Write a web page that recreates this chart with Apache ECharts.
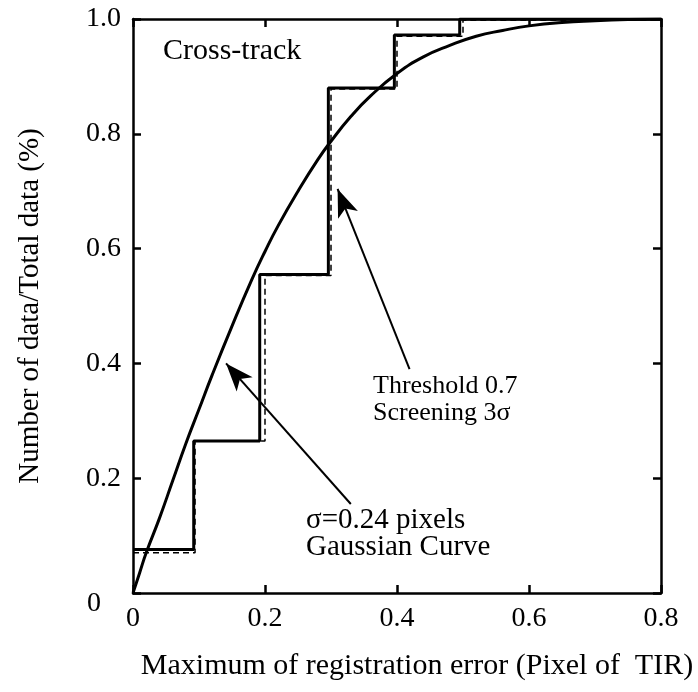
<!DOCTYPE html>
<html>
<head>
<meta charset="utf-8">
<script src="https://cdn.jsdelivr.net/npm/echarts@6/dist/echarts.min.js"></script>
<style>html,body{margin:0;padding:0;background:#fff}#c{width:698px;height:692px}</style>
</head>
<body>
<div id="c"></div>
<script>
// ---- data ----
const xTicks = [0, 0.2, 0.4, 0.6, 0.8];
const yTicks = [0, 0.2, 0.4, 0.6, 0.8, 1.0];
// measured cumulative fraction (step), solid
const stepX = [0, 0.092, 0.192, 0.296, 0.396, 0.495, 0.8];
const stepY = [0.076, 0.265, 0.555, 0.88, 0.972, 1.0, 1.0];
// dashed variant
const dashX = [0, 0.094, 0.2, 0.3, 0.4, 0.5, 0.8];
const dashY = [0.07, 0.265, 0.553, 0.878, 0.97, 0.998, 0.998];
// Gaussian curve
const gaussX = [0, 0.01, 0.02, 0.04, 0.06, 0.08, 0.1, 0.12, 0.15, 0.18, 0.2, 0.22, 0.25, 0.28, 0.3, 0.33, 0.36, 0.4, 0.44, 0.48, 0.52, 0.56, 0.6, 0.65, 0.7, 0.75, 0.8];
const gaussY = [0, 0.035, 0.07, 0.13, 0.195, 0.26, 0.32, 0.38, 0.465, 0.546, 0.595, 0.64, 0.70, 0.755, 0.787, 0.83, 0.866, 0.905, 0.934, 0.954, 0.97, 0.98, 0.988, 0.994, 0.997, 0.999, 1.0];

const xTitle = 'Maximum of registration error (Pixel of  TIR)';
const yTitle = 'Number of data/Total data (%)';

const FONT = '"Liberation Serif", "Times New Roman", serif';

const chart = echarts.init(document.getElementById('c'));
const zip = (a, b) => a.map((v, i) => [v, b[i]]);

const axisCommon = {
  type: 'value',
  axisLine: { show: true, onZero: false, lineStyle: { color: '#000', width: 2.5 } },
  axisTick: { show: true, inside: true, length: 8, lineStyle: { color: '#000', width: 2.5 } },
  splitLine: { show: false }
};

chart.setOption({
  animation: false,
  backgroundColor: '#fff',
  grid: { left: 133, right: 37, top: 19, bottom: 99 },
  xAxis: [
    Object.assign({}, axisCommon, {
      min: 0, max: 0.8, interval: 0.2, position: 'bottom',
      axisLabel: { color: '#000', fontFamily: FONT, fontSize: 28, margin: 12,
        formatter: v => (v === 0 ? '0' : v.toFixed(1)) },
      name: xTitle, nameLocation: 'middle', nameGap: 58,
      nameTextStyle: { color: '#000', fontFamily: FONT, fontSize: 30, padding: [0, 0, 0, 40] }
    }),
    Object.assign({}, axisCommon, {
      min: 0, max: 0.8, interval: 0.2, position: 'top', axisLabel: { show: false }
    })
  ],
  yAxis: [
    Object.assign({}, axisCommon, {
      min: 0, max: 1, interval: 0.2, position: 'left',
      axisLabel: { color: '#000', fontFamily: FONT, fontSize: 28, margin: 12,
        formatter: v => (v === 0 ? '{z|0}' : v.toFixed(1)),
        rich: { z: { fontFamily: FONT, fontSize: 28, color: '#000', padding: [22, 20, 0, 0] } } },
      name: yTitle, nameLocation: 'middle', nameGap: 88,
      nameTextStyle: { color: '#000', fontFamily: FONT, fontSize: 29 }
    }),
    Object.assign({}, axisCommon, {
      min: 0, max: 1, interval: 0.2, position: 'right', axisLabel: { show: false }
    })
  ],
  series: [
    {
      type: 'line', step: 'end', data: zip(dashX, dashY), symbol: 'none',
      lineStyle: { color: '#000', width: 1.5, type: [6, 4] }, z: 2
    },
    {
      type: 'line', step: 'end', data: zip(stepX, stepY), symbol: 'none',
      lineStyle: { color: '#000', width: 3 }, z: 3
    },
    {
      type: 'line', smooth: true, data: zip(gaussX, gaussY), symbol: 'none',
      lineStyle: { color: '#000', width: 3 }, z: 4,
      markLine: {
        silent: true, animation: false,
        symbol: ['none', 'arrow'], symbolSize: [16, 28],
        lineStyle: { color: '#000', width: 2, type: 'solid' },
        label: { show: false },
        data: [
          [{ coord: [0.419, 0.39] }, { coord: [0.31, 0.704] }],
          [{ coord: [0.33, 0.155] }, { coord: [0.141, 0.40] }]
        ]
      }
    }
  ],
  graphic: [
    { type: 'text', left: 163, top: 36, style: { text: 'Cross-track', font: '30px ' + FONT, fill: '#000' } },
    { type: 'text', left: 373, top: 373, style: { text: 'Threshold 0.7', font: '26px ' + FONT, fill: '#000' } },
    { type: 'text', left: 373, top: 400, style: { text: 'Screening 3σ', font: '26px ' + FONT, fill: '#000' } },
    { type: 'text', left: 306, top: 506, style: { text: 'σ=0.24 pixels', font: '29px ' + FONT, fill: '#000' } },
    { type: 'text', left: 306, top: 533, style: { text: 'Gaussian Curve', font: '29px ' + FONT, fill: '#000' } }
  ]
});
</script>
</body>
</html>
